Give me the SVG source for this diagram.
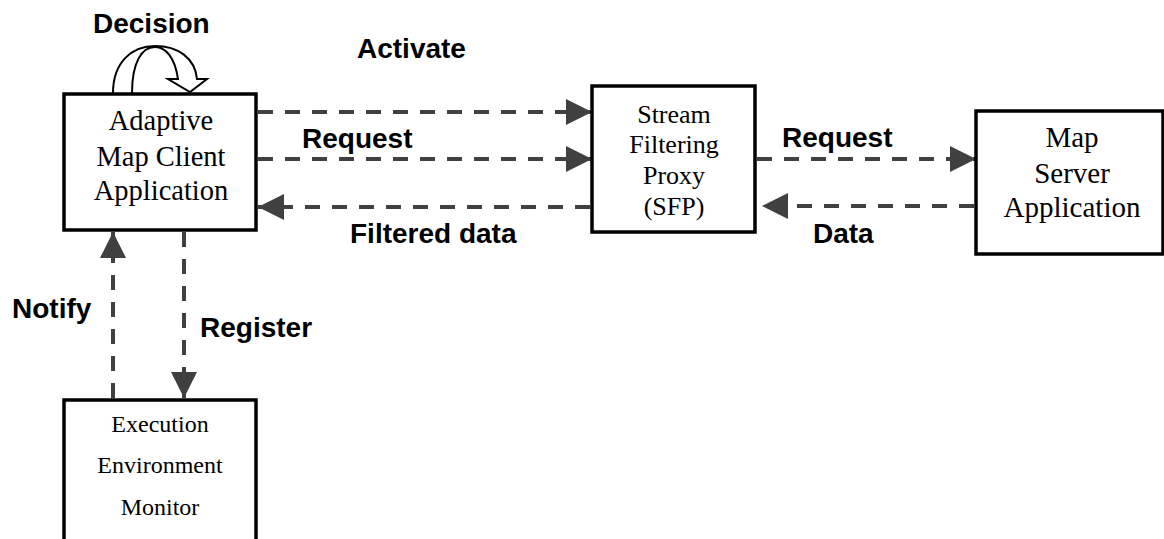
<svg xmlns="http://www.w3.org/2000/svg" width="1164" height="539" viewBox="0 0 1164 539">
<style>
.box{fill:#fff;stroke:#000;stroke-width:3.5}
.nt{font-family:"Liberation Serif","Times New Roman",serif;fill:#000;text-anchor:middle}
.lb{font-family:"Liberation Sans",Arial,sans-serif;font-weight:bold;font-size:28px;fill:#000}
.dl{stroke:#404040;stroke-width:4;stroke-dasharray:15 12;fill:none}
</style>
<defs>
<marker id="ah" markerUnits="userSpaceOnUse" markerWidth="26" markerHeight="26" viewBox="0 0 25 25" refX="25" refY="12.5" orient="auto">
<path d="M0,0 L25,12.5 L0,25 Z" fill="#404040"/>
</marker>
</defs>
<rect width="1164" height="539" fill="#fff"/>
<g id="connectors">
<line class="dl" x1="258" y1="112" x2="592" y2="112" marker-end="url(#ah)"/>
<line class="dl" x1="258" y1="159" x2="592" y2="159" marker-end="url(#ah)"/>
<line class="dl" x1="590" y1="207" x2="258" y2="207" marker-end="url(#ah)"/>
<line class="dl" x1="757" y1="159" x2="976" y2="159" marker-end="url(#ah)"/>
<line class="dl" x1="974" y1="206" x2="762" y2="206" marker-end="url(#ah)"/>
<line class="dl" x1="113" y1="398" x2="113" y2="232" marker-end="url(#ah)"/>
<line class="dl" x1="184" y1="232" x2="184" y2="398" marker-end="url(#ah)"/>
<path d="M113,93 C113,62 132,46 155,46 C178,46 195,58 197,79 L207,79 L190,92 L168,79 L178,79 C175,58 166,47 155,47 C142,47 132,62 132,93" fill="none" stroke="#000" stroke-width="2"/>
</g>
<g id="labels">
<text class="lb" x="93" y="33">Decision</text>
<text class="lb" x="357" y="58">Activate</text>
<text class="lb" x="302" y="148">Request</text>
<text class="lb" x="350" y="243">Filtered data</text>
<text class="lb" x="782" y="147">Request</text>
<text class="lb" x="813" y="243">Data</text>
<text class="lb" x="12" y="318">Notify</text>
<text class="lb" x="200" y="337">Register</text>
</g>
<g id="client">
<rect class="box" x="64" y="94" width="192" height="136"/>
<text class="nt" font-size="28.5" x="161" y="130">Adaptive</text>
<text class="nt" font-size="28.5" x="161" y="166">Map Client</text>
<text class="nt" font-size="28.5" x="161" y="200">Application</text>
</g>
<g id="sfp">
<rect class="box" x="592" y="86" width="163" height="146"/>
<text class="nt" font-size="26" x="674" y="123">Stream</text>
<text class="nt" font-size="26" x="674" y="153">Filtering</text>
<text class="nt" font-size="26" x="674" y="184">Proxy</text>
<text class="nt" font-size="26" x="674" y="215">(SFP)</text>
</g>
<g id="server">
<rect class="box" x="976" y="111" width="187" height="143"/>
<text class="nt" font-size="29" x="1072" y="147">Map</text>
<text class="nt" font-size="29" x="1072" y="183">Server</text>
<text class="nt" font-size="29" x="1072" y="217">Application</text>
</g>
<g id="monitor">
<rect class="box" x="64" y="400" width="192" height="150"/>
<text class="nt" font-size="24" x="160" y="432">Execution</text>
<text class="nt" font-size="24" x="160" y="473">Environment</text>
<text class="nt" font-size="24" x="160" y="515">Monitor</text>
</g>
</svg>
